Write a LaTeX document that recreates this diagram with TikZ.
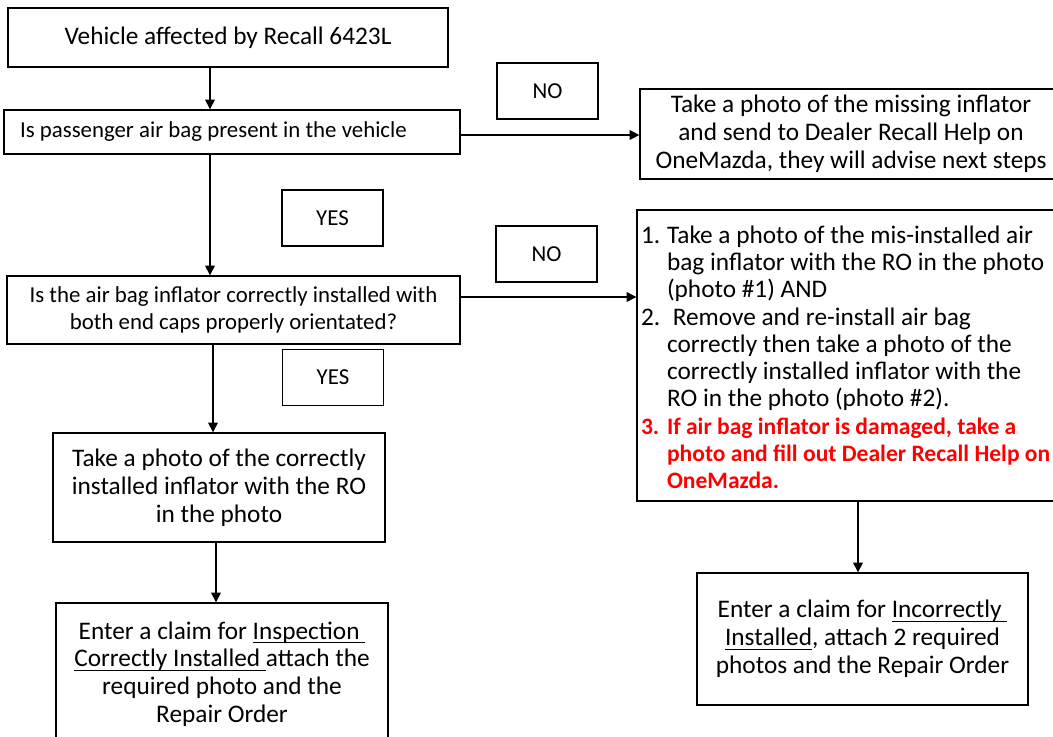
\documentclass[tikz,border=0pt]{standalone}
\usepackage{fontspec}
\setmainfont{Carlito}
\usetikzlibrary{arrows.meta}
\newcommand{\boxfont}{\fontsize{13}{15.6}\selectfont}
\newcommand{\bigboxfont}{\fontsize{14.4}{15.8}\selectfont}
\newcommand{\listfont}{\fontsize{14.4}{15.5}\selectfont}
\newcommand{\warn}[1]{\textcolor{warnred}{\fontsize{13.4}{15.5}\selectfont\bfseries #1}}
\newcommand{\uln}[1]{\setbox0\hbox{#1}\rlap{\rule[-2.4pt]{\wd0}{0.6pt}}\box0}
\definecolor{warnred}{RGB}{255,0,0}

\begin{document}
\begin{tikzpicture}[x=0.02cm, y=-0.02cm, line width=0.8pt, >={Triangle[length=5.5pt,width=5.5pt]},
	box/.style={draw, inner sep=0pt, align=center, font=\boxfont},
	bigbox/.style={box, font=\bigboxfont},
	yesno/.style={box, minimum width=2.02cm, minimum height=1.12cm}]
	\useasboundingbox (0,0) rectangle (1053,736);
	\clip (0,0) rectangle (1053,736);
	\node[bigbox, minimum width=8.8cm, minimum height=1.18cm] (veh) at (228,37.5) {Vehicle affected by Recall 6423L};
	\node[box, minimum width=9.12cm, minimum height=0.88cm] (present) at (232,132) {\makebox[8.48cm][l]{Is passenger air bag present in the vehicle}};
	\node[yesno] (no1) at (547.5,91) {NO};
	\node[bigbox, minimum width=8.44cm, minimum height=1.8cm] (missing) at (851,134) {Take a photo of the missing inflator\\and send to Dealer Recall Help on\\OneMazda, they will advise next steps};
	\node[yesno] (yes1) at (332.5,218) {YES};
	\node[box, minimum width=9.06cm, minimum height=1.36cm] (orient) at (233.5,310) {Is the air bag inflator correctly installed with\\both end caps properly orientated?};
	\node[yesno] (no2) at (546.5,254) {NO};
	\node[box, font=\listfont, minimum width=8.5cm, minimum height=5.82cm] (steps) at (849.5,355.5) {\makebox[8.34cm][l]{\raisebox{-0.1cm}[\height][\depth]{%
		\begin{tabular}{@{}p{0.52cm}@{}l@{}}
			1. & Take a photo of the mis-installed air\\
			& bag inflator with the RO in the photo\\
			& (photo \#1) AND\\
			2. & \ Remove and re-install air bag\\
			& correctly then take a photo of the\\
			& correctly installed inflator with the\\
			& RO in the photo (photo \#2).\\
			\warn{3.} & \warn{If air bag inflator is damaged, take a}\\
			& \warn{photo and fill out Dealer Recall Help on}\\
			& \warn{OneMazda.}
		\end{tabular}}}};
	\node[yesno] (yes2) at (333,377.5) {YES};
	\node[bigbox, minimum width=6.64cm, minimum height=2.18cm] (correct) at (219,487.5) {Take a photo of the correctly\\installed inflator with the RO\\in the photo};
	\node[bigbox, minimum width=6.64cm, minimum height=2.84cm] (claima) at (222,674) {Enter a claim for \uln{Inspection\ }\\\uln{Correctly Installed\ }attach the\\required photo and the\\Repair Order};
	\node[bigbox, minimum width=6.62cm, minimum height=2.64cm] (claimb) at (862.5,639) {Enter a claim for \uln{Incorrectly\ }\\\uln{Installed}, attach 2 required\\photos and the Repair Order};
	\draw[->] (veh.south -| 210,0) -- (present.north -| 210,0);
	\draw[->] (present.east |- 0,135) -- (missing.west |- 0,135);
	\draw[->] (present.south -| 210,0) -- (orient.north -| 210,0);
	\draw[->] (orient.east |- 0,297) -- (steps.west |- 0,297);
	\draw[->] (orient.south -| 213,0) -- (correct.north -| 213,0);
	\draw[->] (correct.south -| 216,0) -- (claima.north -| 216,0);
	\draw[->] (steps.south -| 858,0) -- (claimb.north -| 858,0);
\end{tikzpicture}
\end{document}
